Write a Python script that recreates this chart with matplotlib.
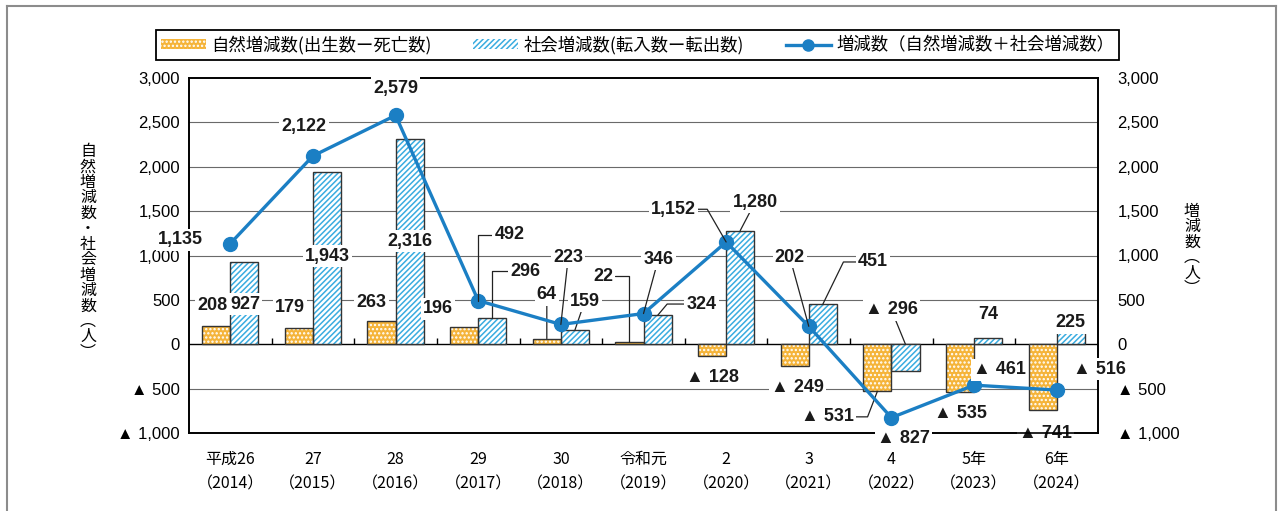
import numpy as np
import matplotlib.pyplot as plt
from matplotlib.patches import Patch
from matplotlib.lines import Line2D
from matplotlib.ticker import FuncFormatter

# ---------------- data ----------------

years = ['平成26\n（2014）', '27\n（2015）', '28\n（2016）', '29\n（2017）', '30\n（2018）',
         '令和元\n（2019）', '2\n（2020）', '3\n（2021）', '4\n（2022）', '5年\n（2023）', '6年\n（2024）']
natural = [208, 179, 263, 196, 64, 22, -128, -249, -531, -535, -741]
social = [927, 1943, 2316, 296, 159, 324, 1280, 451, -296, 74, 225]
total = [1135, 2122, 2579, 492, 223, 346, 1152, 202, -827, -461, -516]

legend_labels = ['自然増減数(出生数ー死亡数)', '社会増減数(転入数ー転出数)', '増減数（自然増減数＋社会増減数）']
left_label = '自然増減数・社会増減数︵人︶'
right_label = '増減数︵人︶'

# label placement (data coords) and leader styles, per series
nat_pos = [(-0.22, 442), (0.72, 409), (1.71, 476), (2.51, 398), (3.83, 555), (4.51, 769),
           (5.84, -378), (6.86, -491), (7.22, -818), (8.84, -775), (9.86, -1000)]
soc_pos = [(0.18, 453), (1.18, 994), (2.17, 1163), (3.57, 825), (4.29, 487), (5.70, 453),
           (6.35, 1600), (7.78, 927), (8.0, 386), (9.17, 330), (10.16, 240)]
tot_pos = [(-0.6, 1175), (0.89, 2448), (2.0, 2887), (3.38, 1231), (4.09, 983), (5.18, 960),
           (5.36, 1521), (6.77, 983), (8.15, -1066), (9.31, -290), (10.52, -279)]
RA = 'angle,angleA=0,angleB=90,rad=0'
nat_lead = [None, None, None, None, 'arc3', RA, None, None, 'angle,angleA=0,angleB=69,rad=0', None, None]
soc_lead = [None, None, None, RA, 'arc3', 'angle,angleA=0,angleB=50,rad=0', 'arc3',
            'angle,angleA=0,angleB=64,rad=0', 'arc3', None, None]
tot_lead = [None, None, None, RA, 'arc3', 'arc3', 'angle,angleA=0,angleB=120,rad=0', 'arc3', None, None, None]

ORANGE = '#f5b43a'
BLUE_H = '#3aace0'
LINE = '#1b7fc4'
DOTS = '....'
DIAG = '//////'

plt.rcParams['hatch.linewidth'] = 1.1
plt.rcParams['font.family'] = ['Liberation Sans', 'DejaVu Sans']

W, H = 1280, 511
fig = plt.figure(figsize=(W / 100, H / 100), dpi=100)
ax = fig.add_axes([189 / W, 1 - 433 / H, 909 / W, 355 / H])

x = np.arange(len(years))
w = 0.34


def fmt(v):
    return f'{v:,.0f}' if v >= 0 else f'▲ {-v:,.0f}'


# gridlines
for yv in range(-500, 3000, 500):
    ax.axhline(yv, color='black' if yv == 0 else '#6a6a6a', lw=1.0 if yv == 0 else 0.8, zorder=1)
ax.vlines(x[:-1] + 0.5, 0, 65, color='black', lw=1.0, zorder=1)

# bars: hatch fill then outline
ax.bar(x - w / 2, natural, w, color=ORANGE, edgecolor='white', hatch=DOTS, lw=0, zorder=2)
ax.bar(x - w / 2, natural, w, fill=False, edgecolor='#333333', lw=1.0, zorder=3)
ax.bar(x + w / 2, social, w, color='white', edgecolor=BLUE_H, hatch=DIAG, lw=0, zorder=2)
ax.bar(x + w / 2, social, w, fill=False, edgecolor='#333333', lw=1.0, zorder=3)

ax.set_xlim(-0.5, len(years) - 0.5)
ax.set_ylim(-1000, 3000)
ax.set_yticks(range(-1000, 3001, 500))
ax.yaxis.set_major_formatter(FuncFormatter(lambda v, p: fmt(v)))
ax.tick_params(axis='y', length=0, pad=6.5, labelsize=12)
ax.set_xticks(x)
ax.set_xticklabels(years, family=['Noto Sans CJK JP'], fontsize=11.5, linespacing=1.55)
ax.tick_params(axis='x', length=0, pad=13)
for s in ax.spines.values():
    s.set_linewidth(1.2)

ax2 = ax.twinx()
ax2.set_ylim(ax.get_ylim())
ax2.set_yticks(range(-1000, 3001, 500))
ax2.yaxis.set_major_formatter(FuncFormatter(lambda v, p: fmt(v)))
ax2.tick_params(axis='y', length=0, pad=14, labelsize=12)
for s in ax2.spines.values():
    s.set_linewidth(1.2)

ax2.plot(x, total, color=LINE, lw=2.4, marker='o', ms=10, zorder=5)

# data labels
lab_font = dict(family=['Liberation Sans', 'DejaVu Sans'], fontsize=13, fontweight='bold', color='#1a1a1a')
box = dict(facecolor='white', edgecolor='none', pad=1.5)


def put_labels(a, xs, vals, pos, lead, dx, clamp0=False):
    for xi, v, (lx, ly), cs in zip(xs, vals, pos, lead):
        ay = max(v, 0) if clamp0 else v
        kw = {}
        if cs:
            kw['arrowprops'] = dict(arrowstyle='-', color='#222222', lw=0.9,
                                    shrinkA=0, shrinkB=0, connectionstyle=cs)
        a.annotate(fmt(v), xy=(xi + dx, ay), xytext=(lx, ly), ha='center', va='center',
                   bbox=box, zorder=6, annotation_clip=False, **lab_font, **kw)


put_labels(ax, x, natural, nat_pos, nat_lead, -w / 2)
put_labels(ax, x, social, soc_pos, soc_lead, w / 2, clamp0=True)
put_labels(ax2, x, total, tot_pos, tot_lead, 0)

# vertical axis titles, stacked characters
cjk = ['Noto Sans CJK JP', 'DejaVu Sans']
fig.text(88 / W, 1 - 252 / H, '\n'.join(left_label), ha='center', va='center',
         fontsize=11.5, family=cjk, linespacing=0.88)
fig.text(1192 / W, 1 - 250 / H, '\n'.join(right_label), ha='center', va='center',
         fontsize=11.5, family=cjk, linespacing=0.88)

# legend
handles = [
    Patch(facecolor=ORANGE, edgecolor='white', hatch=DOTS, lw=0),
    Patch(facecolor='white', edgecolor=BLUE_H, hatch=DIAG, lw=0),
    Line2D([], [], color=LINE, lw=2.4, marker='o', ms=8),
]
leg = fig.legend(handles, legend_labels, loc='center', bbox_to_anchor=(637.5 / W, 1 - 45 / H),
                 ncol=3, frameon=True, fancybox=False, framealpha=1, edgecolor='black',
                 prop=dict(family=cjk, size=12.5), handlelength=2.6, handleheight=0.5,
                 columnspacing=2.4, handletextpad=0.3, borderpad=0.3)
leg.get_frame().set_linewidth(1.3)

# outer frame (top, left, right)
fr = dict(color='#8c8c8c', lw=1.5, transform=fig.transFigure)
fig.add_artist(Line2D([7 / W, 1276 / W], [1 - 6 / H, 1 - 6 / H], **fr))
fig.add_artist(Line2D([7 / W, 7 / W], [1 - 6 / H, 0], **fr))
fig.add_artist(Line2D([1276 / W, 1276 / W], [1 - 6 / H, 0], **fr))

fig.savefig('out.png', dpi=100)
